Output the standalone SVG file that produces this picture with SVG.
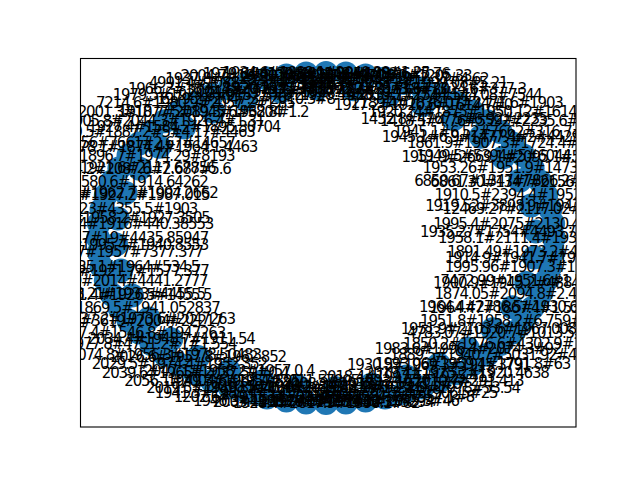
<svg xmlns="http://www.w3.org/2000/svg" width="640" height="480" viewBox="0 0 640 480">
<style>
.n{fill:#1f77b4}
.l text{font-family:"DejaVu Sans","Liberation Sans",sans-serif;font-size:15px;letter-spacing:-1.2px;fill:#000;text-anchor:middle}
</style>
<defs><clipPath id="ax"><rect x="80" y="58" width="496" height="369"/></clipPath></defs>
<rect x="0" y="0" width="640" height="480" fill="#fff"/>
<g clip-path="url(#ax)">
<g id="nodes">
<g id="o0"><circle class="n" cx="554" cy="238" r="12"/></g>
<g id="o1"><circle class="n" cx="553.1" cy="223.6" r="12"/></g>
<g id="o2"><circle class="n" cx="550.5" cy="209.4" r="12"/></g>
<g id="o3"><circle class="n" cx="546.2" cy="195.3" r="12"/></g>
<g id="o4"><circle class="n" cx="540.3" cy="181.6" r="12"/></g>
<g id="o5"><circle class="n" cx="532.6" cy="168.3" r="12"/></g>
<g id="o6"><circle class="n" cx="523.5" cy="155.5" r="12"/></g>
<g id="o7"><circle class="n" cx="512.8" cy="143.4" r="12"/></g>
<g id="o8"><circle class="n" cx="500.6" cy="131.9" r="12"/></g>
<g id="o9"><circle class="n" cx="487.2" cy="121.3" r="12"/></g>
<g id="o10"><circle class="n" cx="472.6" cy="111.6" r="12"/></g>
<g id="o11"><circle class="n" cx="456.8" cy="102.8" r="12"/></g>
<g id="o12"><circle class="n" cx="440" cy="95.1" r="12"/></g>
<g id="o13"><circle class="n" cx="422.4" cy="88.5" r="12"/></g>
<g id="o14"><circle class="n" cx="404" cy="83" r="12"/></g>
<g id="o15"><circle class="n" cx="385" cy="78.6" r="12"/></g>
<g id="o16"><circle class="n" cx="365.6" cy="75.5" r="12"/></g>
<g id="o17"><circle class="n" cx="345.9" cy="73.6" r="12"/></g>
<g id="o18"><circle class="n" cx="326" cy="73" r="12"/></g>
<g id="o19"><circle class="n" cx="306.1" cy="73.6" r="12"/></g>
<g id="o20"><circle class="n" cx="286.4" cy="75.5" r="12"/></g>
<g id="o21"><circle class="n" cx="267" cy="78.6" r="12"/></g>
<g id="o22"><circle class="n" cx="248" cy="83" r="12"/></g>
<g id="o23"><circle class="n" cx="229.6" cy="88.5" r="12"/></g>
<g id="o24"><circle class="n" cx="212" cy="95.1" r="12"/></g>
<g id="o25"><circle class="n" cx="195.2" cy="102.8" r="12"/></g>
<g id="o26"><circle class="n" cx="179.4" cy="111.6" r="12"/></g>
<g id="o27"><circle class="n" cx="164.8" cy="121.3" r="12"/></g>
<g id="o28"><circle class="n" cx="151.4" cy="131.9" r="12"/></g>
<g id="o29"><circle class="n" cx="139.2" cy="143.4" r="12"/></g>
<g id="o30"><circle class="n" cx="128.5" cy="155.5" r="12"/></g>
<g id="o31"><circle class="n" cx="119.4" cy="168.3" r="12"/></g>
<g id="o32"><circle class="n" cx="111.7" cy="181.6" r="12"/></g>
<g id="o33"><circle class="n" cx="105.8" cy="195.3" r="12"/></g>
<g id="o34"><circle class="n" cx="101.5" cy="209.4" r="12"/></g>
<g id="o35"><circle class="n" cx="98.9" cy="223.6" r="12"/></g>
<g id="o36"><circle class="n" cx="98" cy="238" r="12"/></g>
<g id="o37"><circle class="n" cx="98.9" cy="252.4" r="12"/></g>
<g id="o38"><circle class="n" cx="101.5" cy="266.7" r="12"/></g>
<g id="o39"><circle class="n" cx="105.8" cy="280.7" r="12"/></g>
<g id="o40"><circle class="n" cx="111.7" cy="294.4" r="12"/></g>
<g id="o41"><circle class="n" cx="119.4" cy="307.7" r="12"/></g>
<g id="o42"><circle class="n" cx="128.5" cy="320.5" r="12"/></g>
<g id="o43"><circle class="n" cx="139.2" cy="332.6" r="12"/></g>
<g id="o44"><circle class="n" cx="151.4" cy="344.1" r="12"/></g>
<g id="o45"><circle class="n" cx="164.8" cy="354.7" r="12"/></g>
<g id="o46"><circle class="n" cx="179.4" cy="364.4" r="12"/></g>
<g id="o47"><circle class="n" cx="195.2" cy="373.2" r="12"/></g>
<g id="o48"><circle class="n" cx="212" cy="380.9" r="12"/></g>
<g id="o49"><circle class="n" cx="229.6" cy="387.5" r="12"/></g>
<g id="o50"><circle class="n" cx="248" cy="393" r="12"/></g>
<g id="o51"><circle class="n" cx="267" cy="397.4" r="12"/></g>
<g id="o52"><circle class="n" cx="286.4" cy="400.5" r="12"/></g>
<g id="o53"><circle class="n" cx="306.1" cy="402.4" r="12"/></g>
<g id="o54"><circle class="n" cx="326" cy="403" r="12"/></g>
<g id="o55"><circle class="n" cx="345.9" cy="402.4" r="12"/></g>
<g id="o56"><circle class="n" cx="365.6" cy="400.5" r="12"/></g>
<g id="o57"><circle class="n" cx="385" cy="397.4" r="12"/></g>
<g id="o58"><circle class="n" cx="404" cy="393" r="12"/></g>
<g id="o59"><circle class="n" cx="422.4" cy="387.5" r="12"/></g>
<g id="o60"><circle class="n" cx="440" cy="380.9" r="12"/></g>
<g id="o61"><circle class="n" cx="456.8" cy="373.2" r="12"/></g>
<g id="o62"><circle class="n" cx="472.6" cy="364.4" r="12"/></g>
<g id="o63"><circle class="n" cx="487.2" cy="354.7" r="12"/></g>
<g id="o64"><circle class="n" cx="500.6" cy="344.1" r="12"/></g>
<g id="o65"><circle class="n" cx="512.8" cy="332.6" r="12"/></g>
<g id="o66"><circle class="n" cx="523.5" cy="320.5" r="12"/></g>
<g id="o67"><circle class="n" cx="532.6" cy="307.7" r="12"/></g>
<g id="o68"><circle class="n" cx="540.3" cy="294.4" r="12"/></g>
<g id="o69"><circle class="n" cx="546.2" cy="280.7" r="12"/></g>
<g id="o70"><circle class="n" cx="550.5" cy="266.7" r="12"/></g>
<g id="o71"><circle class="n" cx="553.1" cy="252.4" r="12"/></g>
<g id="i0"><circle class="n" cx="535.8" cy="231.5" r="12"/></g>
<g id="i1"><circle class="n" cx="531" cy="205.5" r="12"/></g>
<g id="i2"><circle class="n" cx="520" cy="180.6" r="12"/></g>
<g id="i3"><circle class="n" cx="503.1" cy="157.4" r="12"/></g>
<g id="i4"><circle class="n" cx="480.8" cy="136.7" r="12"/></g>
<g id="i5"><circle class="n" cx="453.8" cy="119" r="12"/></g>
<g id="i6"><circle class="n" cx="423" cy="104.9" r="12"/></g>
<g id="i7"><circle class="n" cx="389.1" cy="94.9" r="12"/></g>
<g id="i8"><circle class="n" cx="353.4" cy="89.3" r="12"/></g>
<g id="i9"><circle class="n" cx="316.8" cy="88.2" r="12"/></g>
<g id="i10"><circle class="n" cx="280.6" cy="91.6" r="12"/></g>
<g id="i11"><circle class="n" cx="245.6" cy="99.4" r="12"/></g>
<g id="i12"><circle class="n" cx="213.2" cy="111.5" r="12"/></g>
<g id="i13"><circle class="n" cx="184.1" cy="127.4" r="12"/></g>
<g id="i14"><circle class="n" cx="159.4" cy="146.7" r="12"/></g>
<g id="i15"><circle class="n" cx="139.7" cy="168.7" r="12"/></g>
<g id="i16"><circle class="n" cx="125.7" cy="192.9" r="12"/></g>
<g id="i17"><circle class="n" cx="117.8" cy="218.4" r="12"/></g>
<g id="i18"><circle class="n" cx="116.2" cy="244.5" r="12"/></g>
<g id="i19"><circle class="n" cx="121" cy="270.5" r="12"/></g>
<g id="i20"><circle class="n" cx="132" cy="295.4" r="12"/></g>
<g id="i21"><circle class="n" cx="148.9" cy="318.6" r="12"/></g>
<g id="i22"><circle class="n" cx="171.2" cy="339.3" r="12"/></g>
<g id="i23"><circle class="n" cx="198.2" cy="357" r="12"/></g>
<g id="i24"><circle class="n" cx="229" cy="371.1" r="12"/></g>
<g id="i25"><circle class="n" cx="262.9" cy="381.1" r="12"/></g>
<g id="i26"><circle class="n" cx="298.6" cy="386.7" r="12"/></g>
<g id="i27"><circle class="n" cx="335.2" cy="387.9" r="12"/></g>
<g id="i28"><circle class="n" cx="371.4" cy="384.4" r="12"/></g>
<g id="i29"><circle class="n" cx="406.4" cy="376.6" r="12"/></g>
<g id="i30"><circle class="n" cx="438.8" cy="364.5" r="12"/></g>
<g id="i31"><circle class="n" cx="467.9" cy="348.6" r="12"/></g>
<g id="i32"><circle class="n" cx="492.6" cy="329.3" r="12"/></g>
<g id="i33"><circle class="n" cx="512.3" cy="307.3" r="12"/></g>
<g id="i34"><circle class="n" cx="526.3" cy="283.1" r="12"/></g>
<g id="i35"><circle class="n" cx="534.2" cy="257.6" r="12"/></g>
</g>
<g id="connectors"/>
<g id="labels" class="l">
<text x="554" y="243">1958.1#2111.4#1935.77#4493.16</text>
<text x="553.1" y="228.6">1995.4#2075#2130.48#3.5619#24</text>
<text x="550.5" y="214.4">-12469.27#2117.02#1914.448#3</text>
<text x="546.2" y="200.3">1910.5#2394.4#1952.47#4.2537</text>
<text x="540.3" y="186.6">6861.30#1347#2156.4#1478.61</text>
<text x="532.6" y="173.3">1953.26#1951.9#1473.5#25354</text>
<text x="523.5" y="160.5">1949.5#5394#5#6044.27#1.94</text>
<text x="512.8" y="148.4">1861.9#1907.3#1724.4#29232</text>
<text x="500.6" y="136.9">1945.1#6.52#7662#316.7#835</text>
<text x="487.2" y="126.3">1418.5#4.76#5592#2235.6#17</text>
<text x="472.6" y="116.6">1920.24#1875#1950.12#1614</text>
<text x="456.8" y="107.8">2189.4#1836.07#2471.6#1903</text>
<text x="440" y="100.1">1958.3#1727.8#544.08#7544</text>
<text x="422.4" y="93.5">1925.7#2113.6#2024.6#377.3</text>
<text x="404" y="88">1883.7#7281.3#1999.08#5.21</text>
<text x="385" y="83.6">1945.4#2009.1#1912.37#4.62</text>
<text x="365.6" y="80.5">2010.5#1896#1906.9#1205.33</text>
<text x="345.9" y="78.6">1941.7#4991.28#1983.6#7.76</text>
<text x="326" y="78">1934.6#1888.1#2040.39#1.25</text>
<text x="306.1" y="78.6">1979.6#4130.1#1848.54#5.06</text>
<text x="286.4" y="80.5">2004.7#1953.9#1998.2#40704</text>
<text x="267" y="83.6">1937.8#2129.3#1862.4#1834</text>
<text x="248" y="88">4991.4#2088.5#1947.3#26.8</text>
<text x="229.6" y="93.5">1966.2#1895.4#2046.7#1338</text>
<text x="212" y="100.1">1979.5#1924.8#9157.3#8.27</text>
<text x="195.2" y="107.8">7214.6#1980.9#2057.2#1.85</text>
<text x="179.4" y="116.6">2001.3#1877.5#1945.6#3804</text>
<text x="164.8" y="126.3">1905.8#2044.3#1926.4#1.31</text>
<text x="151.4" y="136.9">2100.5#1887.2#5#4.17#4463</text>
<text x="139.2" y="148.4">1792.56#7661#2.67#14657</text>
<text x="128.5" y="160.5">9678.4#1896.7#1974.29#8193</text>
<text x="119.4" y="173.3">2030.8#1921.6#2117.67856</text>
<text x="111.7" y="186.6">1238.4#1580.6#1914.64262</text>
<text x="105.8" y="200.3">2798.7#5.8#1927.2#1987.015</text>
<text x="101.5" y="214.4">1868.5#1623#4355.5#1903</text>
<text x="98.9" y="228.6">2916.3#1916.4#1916#440.38553</text>
<text x="98" y="243">1985.4#2356.7#19#4435.85947</text>
<text x="98.9" y="257.4">1879.3#4597#1957#7377.377</text>
<text x="101.5" y="271.7">2025.1#1935.1#1964#534.5</text>
<text x="105.8" y="285.7">1896.4#5.9#2014#4441.2777</text>
<text x="111.7" y="299.4">1796.2#8.21#1933#4455.5</text>
<text x="119.4" y="312.7">1902.3#1869.5#1941.052837</text>
<text x="128.5" y="325.5">1989.7#3619#2004#22217</text>
<text x="139.2" y="337.6">9727.4#1546.8#1947263</text>
<text x="151.4" y="349.1">1977.8#4751.2#1#1.554</text>
<text x="164.8" y="359.7">2074.8#1956.3#1978.50483</text>
<text x="179.4" y="369.4">2029.5#1974.4#1952.352</text>
<text x="195.2" y="378.2">2039.6#1965#2037.59#0.4</text>
<text x="212" y="385.9">2056.1#2004.6#1957.895</text>
<text x="229.6" y="392.5">2019.5#1949.3#2006.61</text>
<text x="248" y="398">1941.3#1988.4#1917.2#66</text>
<text x="267" y="402.4">1202.6#1911.7#2012.6#40</text>
<text x="286.4" y="405.5">1946.3#1985.2#1942.7#13</text>
<text x="306.1" y="407.4">2003.4#1970.6#1959.3#37</text>
<text x="326" y="408">1928.4#2017.9#1990.1#82</text>
<text x="345.9" y="407.4">1963.7#1978.4#2.355294</text>
<text x="365.6" y="405.5">1994.5#1925.6#2045.3#46</text>
<text x="385" y="402.4">2019.2#1984.7#1957.1#8</text>
<text x="404" y="398">1946.8#2018.4#1906.5#25</text>
<text x="422.4" y="392.5">2011.3#1932.9#1978#53.54</text>
<text x="440" y="385.9">1993.4#2010.7#291.413</text>
<text x="456.8" y="378.2">2019.4#1975.2#1920.4638</text>
<text x="472.6" y="369.4">1993.06#1959.4#1791.8#63</text>
<text x="487.2" y="359.7">1889.5#1940.7#5031.92#48</text>
<text x="500.6" y="349.1">1850.2#1976.6#4302.9#177</text>
<text x="512.8" y="337.6">4783.07#1920.7#1013.5#0437</text>
<text x="523.5" y="325.5">1951.8#1958.2#6.759#1960.8</text>
<text x="532.6" y="312.7">1964.47#1867.4#1.530#53.36</text>
<text x="540.3" y="299.4">1874.05#2094.8#2.4763#1926</text>
<text x="546.2" y="285.7">7472.99#1951.6#1.5204#4306</text>
<text x="550.5" y="271.7">1995.96#1907.3#1.3002#1947</text>
<text x="553.1" y="257.4">1891.49#1973.2#4.5307#5329</text>
<text x="535.8" y="236.5">1935.27#1754#4493.7#1897.3#2</text>
<text x="531" y="210.5">1919.52#3898.9#1947.2#4524</text>
<text x="520" y="185.6">6850.67#1347#7866.2#1950.1</text>
<text x="503.1" y="162.4">1951.9#2669.1#2095.1#5473</text>
<text x="480.8" y="141.7">1945.1#6.9#1477.4#2#4429</text>
<text x="453.8" y="124">1452.8#4767.5#6.92#2235</text>
<text x="423" y="109.9">1917.2#1920.6#1614.7#0</text>
<text x="389.1" y="99.9">1928.4#2019.7#7544.1#7</text>
<text x="353.4" y="94.3">1955.3#1892.7#2073.8#13</text>
<text x="316.8" y="93.2">1920.24#1988.5#2017.5#1</text>
<text x="280.6" y="96.6">2004.6#1973.5#1907.48#4</text>
<text x="245.6" y="104.4">1979.2#2047.3#2010.3#8</text>
<text x="213.2" y="116.5">1910.7#2089.3#1962.8#1.2</text>
<text x="184.1" y="132.4">1927.4#1584.2#1895.30704</text>
<text x="159.4" y="151.7">2078.1#1874.4#1964.1.4463</text>
<text x="139.7" y="173.7">2044.2#2087.6#2.687#5.6</text>
<text x="125.7" y="197.9">2314.5#1962.7#1904.2662</text>
<text x="117.8" y="223.4">2298.5#1958.2#1927.3505</text>
<text x="116.2" y="249.5">1911.6#1995.4#1940.8553</text>
<text x="121" y="275.5">1936.3#1921.7#1577.377</text>
<text x="132" y="300.4">1951.4#1926.5#1455.5</text>
<text x="148.9" y="323.6">1937.2#1973.6#2047263</text>
<text x="171.2" y="344.3">2034.4#1948.7#1911.54</text>
<text x="198.2" y="362">2026.6#1957.8#1962.852</text>
<text x="229" y="376.1">2047.1#1958.2#1957.0.4</text>
<text x="262.9" y="386.1">1949.3#1968.4#2011.57895</text>
<text x="298.6" y="391.7">2010.5#1946.2#1980.4#3</text>
<text x="335.2" y="392.9">1946.7#2019.4#1979.2#6</text>
<text x="371.4" y="389.4">2008.3#1933.1#1971.5#6</text>
<text x="406.4" y="381.6">2018.4#1997.4#1925.413</text>
<text x="438.8" y="369.5">1930.5#1969.3#1915.3791</text>
<text x="467.9" y="353.6">1983.6#1996.4#2074.3#92</text>
<text x="492.6" y="334.3">1951.9#2103.6#1967.0089</text>
<text x="512.3" y="312.3">1964.4#2786.5#1930.65#3</text>
<text x="526.3" y="288.1">1900.9#1945.2#4884.7#14</text>
<text x="534.2" y="262.6">1914.9#1941.7#1937.8#2</text>
</g>
</g>
<rect x="80.5" y="58.5" width="495.5" height="368.5" fill="none" stroke="#000" stroke-width="1.1"/>
</svg>
